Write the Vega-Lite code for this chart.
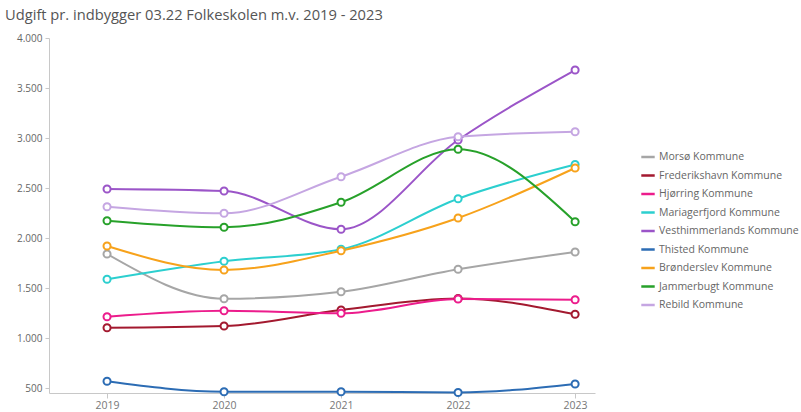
{
  "$schema": "https://vega.github.io/schema/vega-lite/v6.json",
  "width": 546,
  "height": 355,
  "autosize": "none",
  "padding": {"left": 49, "top": 38, "right": 206, "bottom": 19},
  "background": "white",
  "config": {
    "view": {"stroke": null},
    "font": "Open Sans"
  },
  "title": {
    "text": "Udgift pr. indbygger 03.22 Folkeskolen m.v. 2019 - 2023",
    "anchor": "start",
    "frame": "group",
    "dx": -44,
    "offset": 10,
    "fontSize": 14.7,
    "fontWeight": "normal",
    "color": "#555555",
    "font": "Open Sans"
  },
  "data": {
    "values": [
      {"kommune": "Morsø Kommune", "year": 2019, "value": 1840},
      {"kommune": "Morsø Kommune", "year": 2020, "value": 1393},
      {"kommune": "Morsø Kommune", "year": 2021, "value": 1463},
      {"kommune": "Morsø Kommune", "year": 2022, "value": 1687},
      {"kommune": "Morsø Kommune", "year": 2023, "value": 1860},
      {"kommune": "Frederikshavn Kommune", "year": 2019, "value": 1103},
      {"kommune": "Frederikshavn Kommune", "year": 2020, "value": 1120},
      {"kommune": "Frederikshavn Kommune", "year": 2021, "value": 1280},
      {"kommune": "Frederikshavn Kommune", "year": 2022, "value": 1395},
      {"kommune": "Frederikshavn Kommune", "year": 2023, "value": 1237},
      {"kommune": "Hjørring Kommune", "year": 2019, "value": 1213},
      {"kommune": "Hjørring Kommune", "year": 2020, "value": 1273},
      {"kommune": "Hjørring Kommune", "year": 2021, "value": 1247},
      {"kommune": "Hjørring Kommune", "year": 2022, "value": 1390},
      {"kommune": "Hjørring Kommune", "year": 2023, "value": 1383},
      {"kommune": "Mariagerfjord Kommune", "year": 2019, "value": 1587},
      {"kommune": "Mariagerfjord Kommune", "year": 2020, "value": 1767},
      {"kommune": "Mariagerfjord Kommune", "year": 2021, "value": 1887},
      {"kommune": "Mariagerfjord Kommune", "year": 2022, "value": 2393},
      {"kommune": "Mariagerfjord Kommune", "year": 2023, "value": 2735},
      {"kommune": "Vesthimmerlands Kommune", "year": 2019, "value": 2490},
      {"kommune": "Vesthimmerlands Kommune", "year": 2020, "value": 2470},
      {"kommune": "Vesthimmerlands Kommune", "year": 2021, "value": 2087},
      {"kommune": "Vesthimmerlands Kommune", "year": 2022, "value": 2980},
      {"kommune": "Vesthimmerlands Kommune", "year": 2023, "value": 3680},
      {"kommune": "Thisted Kommune", "year": 2019, "value": 567},
      {"kommune": "Thisted Kommune", "year": 2020, "value": 463},
      {"kommune": "Thisted Kommune", "year": 2021, "value": 463},
      {"kommune": "Thisted Kommune", "year": 2022, "value": 455},
      {"kommune": "Thisted Kommune", "year": 2023, "value": 540},
      {"kommune": "Brønderslev Kommune", "year": 2019, "value": 1920},
      {"kommune": "Brønderslev Kommune", "year": 2020, "value": 1680},
      {"kommune": "Brønderslev Kommune", "year": 2021, "value": 1873},
      {"kommune": "Brønderslev Kommune", "year": 2022, "value": 2200},
      {"kommune": "Brønderslev Kommune", "year": 2023, "value": 2700},
      {"kommune": "Jammerbugt Kommune", "year": 2019, "value": 2173},
      {"kommune": "Jammerbugt Kommune", "year": 2020, "value": 2107},
      {"kommune": "Jammerbugt Kommune", "year": 2021, "value": 2357},
      {"kommune": "Jammerbugt Kommune", "year": 2022, "value": 2887},
      {"kommune": "Jammerbugt Kommune", "year": 2023, "value": 2163},
      {"kommune": "Rebild Kommune", "year": 2019, "value": 2313},
      {"kommune": "Rebild Kommune", "year": 2020, "value": 2247},
      {"kommune": "Rebild Kommune", "year": 2021, "value": 2613},
      {"kommune": "Rebild Kommune", "year": 2022, "value": 3013},
      {"kommune": "Rebild Kommune", "year": 2023, "value": 3063}
    ]
  },
  "encoding": {
    "x": {
      "field": "year",
      "type": "quantitative",
      "scale": {"domain": [2018.504, 2023.17], "nice": false, "zero": false},
      "axis": {
        "title": null,
        "values": [2019, 2020, 2021, 2022, 2023],
        "format": "d",
        "grid": false,
        "domainColor": "#c8c8c8",
        "tickColor": "#c8c8c8",
        "tickSize": 5,
        "labelColor": "#777777",
        "labelFontSize": 10.5,
        "labelPadding": 2
      }
    },
    "y": {
      "field": "value",
      "type": "quantitative",
      "scale": {"domain": [450, 4000], "nice": false, "zero": false},
      "axis": {
        "title": null,
        "values": [500, 1000, 1500, 2000, 2500, 3000, 3500, 4000],
        "labelExpr": "replace(format(datum.value, ','), ',', '.')",
        "grid": false,
        "domainColor": "#c8c8c8",
        "tickColor": "#c8c8c8",
        "tickSize": 4,
        "labelColor": "#666666",
        "labelFontSize": 10,
        "labelPadding": 3
      }
    },
    "color": {
      "field": "kommune",
      "type": "nominal",
      "scale": {
        "domain": ["Morsø Kommune", "Frederikshavn Kommune", "Hjørring Kommune", "Mariagerfjord Kommune", "Vesthimmerlands Kommune", "Thisted Kommune", "Brønderslev Kommune", "Jammerbugt Kommune", "Rebild Kommune"],
        "range": ["#a6a6a6", "#a3192f", "#ec1c8c", "#2ccfcf", "#9b55c8", "#2c6cb4", "#f7a21b", "#27a12a", "#c5a6e2"]
      },
      "legend": {
        "title": null,
        "orient": "none",
        "legendX": 591,
        "legendY": 111,
        "symbolType": "stroke",
        "symbolSize": 180,
        "symbolStrokeWidth": 2.5,
        "labelFontSize": 10.5,
        "labelColor": "#666666",
        "labelOffset": 3,
        "rowPadding": 4.5,
        "labelLimit": 300
      }
    }
  },
  "layer": [
    {
      "mark": {"type": "line", "interpolate": "monotone", "strokeWidth": 2}
    },
    {
      "mark": {"type": "point", "filled": false, "fill": "white", "fillOpacity": 1, "strokeWidth": 2, "size": 50, "opacity": 1}
    }
  ]
}
